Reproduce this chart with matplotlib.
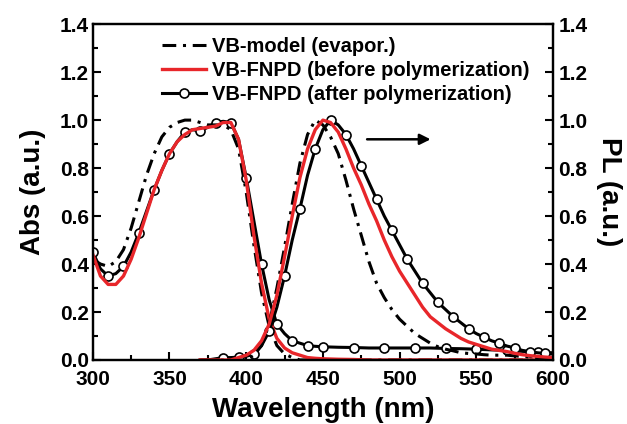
import numpy as np
import matplotlib.pyplot as plt
from matplotlib.ticker import MultipleLocator

plt.rcParams['font.family'] = ['Liberation Sans', 'DejaVu Sans']
plt.rcParams['font.weight'] = 'bold'

# absorption (left axis)
wl_abs = [300, 305, 310, 315, 320, 325, 330, 335, 340, 345, 350, 355, 360, 365, 370, 375,
          380, 385, 390, 395, 400, 405, 410, 415, 420, 425, 430, 435, 440, 445, 450,
          460, 470, 480, 490, 500, 510, 520, 530, 540, 550, 560, 570, 580, 590, 600]
abs_model = [0.42, 0.40, 0.39, 0.41, 0.46, 0.55, 0.66, 0.77, 0.86, 0.93, 0.97, 0.99, 1.0, 1.0, 0.99, 0.98,
             0.98, 0.98, 0.96, 0.88, 0.70, 0.48, 0.28, 0.14, 0.06, 0.025, 0.01, 0.0, 0.0, 0.0, 0.0,
             0.0, 0.0, 0.0, 0.0, 0.0, 0.0, 0.0, 0.0, 0.0, 0.0, 0.0, 0.0, 0.0, 0.0, 0.0]
abs_before = [0.44, 0.35, 0.315, 0.315, 0.35, 0.42, 0.51, 0.61, 0.71, 0.79, 0.86, 0.91, 0.94, 0.96, 0.965, 0.97,
              0.975, 0.99, 0.99, 0.92, 0.75, 0.52, 0.32, 0.17, 0.09, 0.05, 0.03, 0.02, 0.01, 0.007, 0.005,
              0.003, 0.002, 0.0, 0.0, 0.0, 0.0, 0.0, 0.0, 0.0, 0.0, 0.0, 0.0, 0.0, 0.0, 0.0]
abs_after = [0.45, 0.38, 0.35, 0.36, 0.39, 0.45, 0.53, 0.62, 0.71, 0.79, 0.86, 0.91, 0.95, 0.96, 0.955, 0.97,
             0.99, 0.995, 0.99, 0.92, 0.76, 0.58, 0.40, 0.25, 0.15, 0.11, 0.08, 0.07, 0.06, 0.057, 0.055,
             0.053, 0.052, 0.05, 0.05, 0.05, 0.05, 0.05, 0.048, 0.047, 0.045, 0.042, 0.04, 0.036, 0.032, 0.03]

# photoluminescence (right axis)
wl_pl = [370, 375, 380, 385, 390, 395, 400, 405, 410, 415, 420, 425, 430, 435, 440, 445, 450, 455,
         460, 465, 470, 475, 480, 485, 490, 495, 500, 505, 510, 515, 520, 525, 530, 535, 540, 545,
         550, 555, 560, 565, 570, 575, 580, 585, 590, 595, 600]
pl_model = [0.0, 0.0, 0.0, 0.0, 0.0, 0.0, 0.0, 0.02, 0.06, 0.15, 0.30, 0.47, 0.65, 0.82, 0.94, 1.0, 0.98, 0.93,
            0.86, 0.75, 0.63, 0.52, 0.41, 0.32, 0.26, 0.21, 0.17, 0.14, 0.11, 0.09, 0.07, 0.055, 0.045, 0.038, 0.03, 0.027,
            0.025, 0.022, 0.02, 0.02, 0.02, 0.017, 0.015, 0.012, 0.01, 0.01, 0.01]
pl_before = [0.0, 0.0, 0.0, 0.0, 0.0, 0.01, 0.02, 0.04, 0.08, 0.15, 0.27, 0.43, 0.60, 0.76, 0.88, 0.96, 1.0, 0.99,
             0.95, 0.88, 0.80, 0.73, 0.65, 0.58, 0.50, 0.43, 0.37, 0.32, 0.27, 0.22, 0.18, 0.155, 0.13, 0.11, 0.09, 0.075,
             0.065, 0.055, 0.045, 0.04, 0.035, 0.028, 0.022, 0.018, 0.015, 0.012, 0.01]
pl_after = [0.0, 0.0, 0.005, 0.01, 0.01, 0.012, 0.015, 0.025, 0.06, 0.12, 0.22, 0.35, 0.50, 0.63, 0.77, 0.88, 0.96, 1.0,
            0.98, 0.94, 0.88, 0.81, 0.74, 0.67, 0.60, 0.54, 0.48, 0.42, 0.37, 0.32, 0.28, 0.24, 0.21, 0.18, 0.155, 0.13,
            0.11, 0.095, 0.08, 0.07, 0.058, 0.05, 0.04, 0.035, 0.03, 0.027, 0.025]

red = '#e8262a'
dashdot = (0, (4.5, 2.2, 1.0, 2.2))
mk = dict(marker='o', markersize=6.5, markerfacecolor='white', markeredgecolor='black', markeredgewidth=1.2)

fig = plt.figure(figsize=(6.27, 4.24), dpi=100)
ax = fig.add_axes([0.148, 0.151, 0.734, 0.792])
ax2 = ax.twinx()

l3, = ax.plot(wl_abs, abs_after, color='black', lw=2.2, markevery=2, **mk)
l1, = ax.plot(wl_abs, abs_model, color='black', lw=2.2, linestyle=dashdot)
l2, = ax.plot(wl_abs, abs_before, color=red, lw=2.4)

ax2.plot(wl_pl, pl_after, color='black', lw=2.2, markevery=(3, 2), **mk)
ax2.plot(wl_pl, pl_model, color='black', lw=2.2, linestyle=dashdot)
ax2.plot(wl_pl, pl_before, color=red, lw=2.4)

for a in (ax, ax2):
    a.set_xlim(300, 600)
    a.set_ylim(0, 1.4)
    a.yaxis.set_major_locator(MultipleLocator(0.2))
    a.yaxis.set_minor_locator(MultipleLocator(0.1))
    a.yaxis.set_major_formatter(plt.FormatStrFormatter('%.1f'))
    for s in a.spines.values():
        s.set_linewidth(1.6)
    a.tick_params(which='both', direction='in', width=1.5, labelsize=15)
    a.tick_params(which='major', length=6)
    a.tick_params(which='minor', length=3.5)
ax.xaxis.set_major_locator(MultipleLocator(50))
ax.xaxis.set_minor_locator(MultipleLocator(25))
ax.tick_params(top=False, right=False)
ax.tick_params(axis='x', pad=7)
ax.tick_params(axis='y', pad=3)
ax2.tick_params(axis='y', pad=4)

ax.set_xlabel('Wavelength (nm)', fontsize=20, fontweight='bold', labelpad=6)
ax.set_ylabel('Abs (a.u.)', fontsize=20, fontweight='bold', labelpad=10)
ax2.set_ylabel('PL (a.u.)', fontsize=20, fontweight='bold', rotation=270, labelpad=25)

ax2.annotate('', xy=(522, 0.92), xytext=(477, 0.92),
             arrowprops=dict(arrowstyle='-|>', color='black', lw=1.8, mutation_scale=16))

leg = ax2.legend([l1, l2, l3],
                 ['VB-model (evapor.)', 'VB-FNPD (before polymerization)', 'VB-FNPD (after polymerization)'],
                 loc='upper center', bbox_to_anchor=(0.55, 0.985), frameon=False,
                 fontsize=14.5, handlelength=2.2, handletextpad=0.3, labelspacing=0.25, borderaxespad=0)

fig.savefig('out.png', dpi=100)
